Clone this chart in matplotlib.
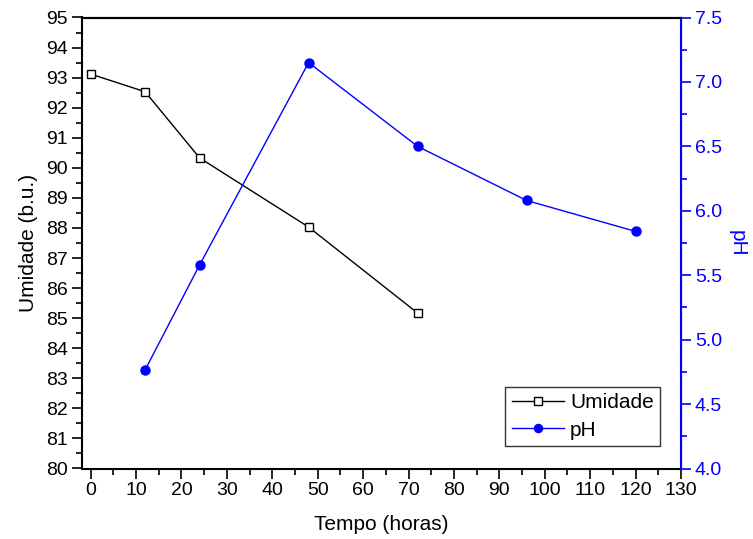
import matplotlib
matplotlib.use("Agg")
import matplotlib.pyplot as plt
from matplotlib.ticker import MultipleLocator

plt.rcParams['font.family'] = ['Liberation Sans', 'DejaVu Sans']

# donnees
tempo_umidade = [0, 12, 24, 48, 72]
umidade = [93.12, 92.53, 90.33, 88.03, 85.17]
tempo_ph = [12, 24, 48, 72, 96, 120]
ph = [4.765, 5.58, 7.15, 6.50, 6.08, 5.84]

azul = '#0000ff'

fig = plt.figure(figsize=(7.53, 5.39), dpi=100)
ax = fig.add_axes([82/753, 1 - 468.5/539, (681-82)/753, (468.5-17.5)/539])
ax2 = ax.twinx()

l1, = ax.plot(tempo_umidade, umidade, color='black', lw=1, marker='s',
              markersize=6, markerfacecolor='white', markeredgecolor='black',
              markeredgewidth=1, label='Umidade')
l2, = ax2.plot(tempo_ph, ph, color=azul, lw=1, marker='o', markersize=6.5,
               markerfacecolor=azul, markeredgecolor=azul, label='pH')

ax.set_xlim(-1.9, 130)
ax.set_ylim(80, 95)
ax2.set_ylim(4.0, 7.5)

ax.xaxis.set_major_locator(MultipleLocator(10))
ax.xaxis.set_minor_locator(MultipleLocator(5))
ax.yaxis.set_major_locator(MultipleLocator(1))
ax.yaxis.set_minor_locator(MultipleLocator(0.5))
ax2.yaxis.set_major_locator(MultipleLocator(0.5))
ax2.yaxis.set_minor_locator(MultipleLocator(0.25))

ax.tick_params(which='major', direction='out', length=7, width=1.2, labelsize=14, pad=3)
ax.tick_params(which='minor', direction='out', length=4, width=1.2)
ax2.tick_params(which='major', direction='out', length=7, width=1.2,
                labelsize=14, colors=azul, pad=3)
ax2.tick_params(which='minor', direction='out', length=4, width=1.2, colors=azul)

for s in ['left', 'bottom', 'top']:
    ax.spines[s].set_linewidth(1.5)
ax2.spines['right'].set_color(azul)
ax2.spines['right'].set_linewidth(1.5)
ax2.spines['left'].set_visible(False)
ax2.spines['top'].set_linewidth(1.5)
ax2.spines['bottom'].set_visible(False)

ax.set_xlabel('Tempo (horas)', fontsize=15, labelpad=11)
ax.set_ylabel('Umidade (b.u.)', fontsize=15, labelpad=6)
ax2.set_ylabel('pH', fontsize=15, color=azul, rotation=270, labelpad=18)

leg = ax2.legend([l1, l2], ['Umidade', 'pH'], loc='lower right',
                 bbox_to_anchor=(0.965, 0.05), borderaxespad=0, fontsize=15,
                 frameon=True, fancybox=False, edgecolor='black',
                 handlelength=2.5, handletextpad=0.3, borderpad=0.3,
                 labelspacing=0.4, markerscale=0.9)
leg.get_frame().set_linewidth(1)

fig.savefig('out.png', dpi=100)
